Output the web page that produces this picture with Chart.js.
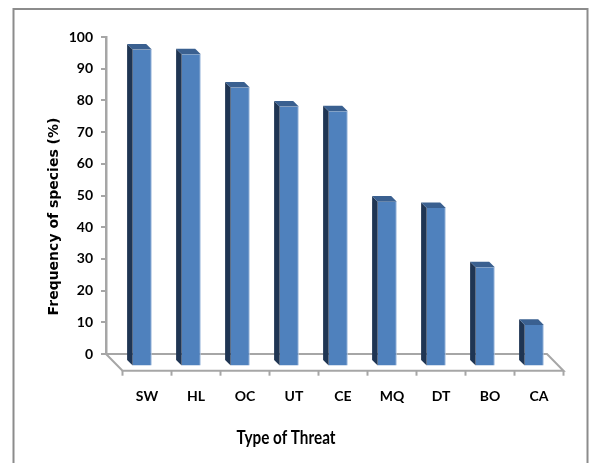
<!DOCTYPE html>
<html>
<head>
<meta charset="utf-8">
<script src="https://cdn.jsdelivr.net/npm/chart.js@4/dist/chart.umd.min.js"></script>
<style>
  html, body { margin: 0; padding: 0; background: #ffffff; }
  canvas { display: block; }
</style>
</head>
<body>
<canvas id="chart" width="590" height="463"></canvas>
<script>
// Threat categories and share of species affected by each (%)
const threats = ['SW', 'HL', 'OC', 'UT', 'CE', 'MQ', 'DT', 'BO', 'CA'];
const frequency = [100, 98.5, 88, 82, 80.5, 52, 50, 31.3, 13.1];
const yTickValues = [0, 10, 20, 30, 40, 50, 60, 70, 80, 90, 100];
const xTitle = 'Type of Threat';
const yTitle = 'Frequency of species (%)';

// Oblique depth used for the 3D look
const BAR_SHIFT = { x: 11.75, y: 12.5 };   // front faces sit in front of the wall
const BAR_DEPTH = 5.6;                      // thickness of each column
const FLOOR_DEPTH = { x: 16.5, y: 16.7 };   // floor slab depth
const AXIS_GREY = '#A6A6A6';

const colours = {
  front: '#4F81BD',
  edge: '#A9C2E0',
  side: '#1F3553',
  top: '#3A6090'
};

// White page with a thin grey frame
const framePlugin = {
  id: 'frame',
  beforeDraw(chart) {
    const ctx = chart.ctx;
    ctx.save();
    ctx.fillStyle = '#ffffff';
    ctx.fillRect(0, 0, chart.width, chart.height);
    ctx.strokeStyle = '#8C8C8C';
    ctx.lineWidth = 2;
    ctx.strokeRect(13.5, 9, 574, 480);
    ctx.restore();
  }
};

// Floor slab, shifted columns and their side/top faces
const depthPlugin = {
  id: 'depth',
  beforeDatasetsDraw(chart) {
    const ctx = chart.ctx;
    const a = chart.chartArea;
    const n = threats.length;
    const step = (a.right - a.left) / n;
    ctx.save();
    ctx.strokeStyle = AXIS_GREY;
    ctx.lineJoin = 'miter';
    // floor outline
    ctx.lineWidth = 2;
    ctx.beginPath();
    ctx.moveTo(a.left, a.bottom);
    ctx.lineTo(a.right, a.bottom);
    ctx.lineTo(a.right + FLOOR_DEPTH.x, a.bottom + FLOOR_DEPTH.y);
    ctx.lineTo(a.left + FLOOR_DEPTH.x, a.bottom + FLOOR_DEPTH.y);
    ctx.closePath();
    ctx.stroke();
    // tick marks on the front edge of the floor
    for (let i = 0; i <= n; i++) {
      const x = a.left + FLOOR_DEPTH.x + i * step;
      ctx.beginPath();
      ctx.moveTo(x, a.bottom + FLOOR_DEPTH.y);
      ctx.lineTo(x, a.bottom + FLOOR_DEPTH.y + 5);
      ctx.stroke();
    }
    ctx.restore();
    // columns are drawn in front of the wall
    ctx.save();
    ctx.translate(BAR_SHIFT.x, BAR_SHIFT.y);
  },
  afterDatasetsDraw(chart) {
    const ctx = chart.ctx;
    const meta = chart.getDatasetMeta(0);
    const d = BAR_DEPTH;
    meta.data.forEach(bar => {
      const { x, y, base, width } = bar.getProps(['x', 'y', 'base', 'width'], true);
      const left = x - width / 2;
      const right = x + width / 2;
      // side face
      ctx.fillStyle = colours.side;
      ctx.beginPath();
      ctx.moveTo(left - d, y - d);
      ctx.lineTo(left, y);
      ctx.lineTo(left, base);
      ctx.lineTo(left - d, base - d);
      ctx.closePath();
      ctx.fill();
      // top face
      ctx.fillStyle = colours.top;
      ctx.beginPath();
      ctx.moveTo(left - d, y - d);
      ctx.lineTo(right - d, y - d);
      ctx.lineTo(right, y);
      ctx.lineTo(left, y);
      ctx.closePath();
      ctx.fill();
    });
    ctx.restore();
  }
};

// Axis titles
const titlePlugin = {
  id: 'axisTitles',
  afterDraw(chart) {
    const ctx = chart.ctx;
    ctx.save();
    ctx.fillStyle = '#000000';
    ctx.textAlign = 'center';
    ctx.textBaseline = 'middle';
    ctx.font = 'bold 18px Lato';
    ctx.fillText(xTitle, 286, 438, 99);
    ctx.translate(54, 216.5);
    ctx.rotate(-Math.PI / 2);
    ctx.font = 'bold 14px "DejaVu Sans"';
    ctx.fillText(yTitle, 0, 0, 209);
    ctx.restore();
  }
};

new Chart(document.getElementById('chart'), {
  type: 'bar',
  data: {
    labels: threats,
    datasets: [{
      label: yTitle,
      data: frequency,
      backgroundColor: colours.front,
      borderColor: colours.edge,
      borderWidth: { top: 0, left: 0, bottom: 0, right: 1 },
      borderSkipped: false,
      barPercentage: 0.39,
      categoryPercentage: 1,
      clip: false
    }]
  },
  options: {
    responsive: false,
    devicePixelRatio: 1,
    animation: false,
    layout: { padding: { left: 20, right: 43, top: 37, bottom: 44 } },
    plugins: {
      legend: { display: false },
      tooltip: { enabled: false }
    },
    scales: {
      x: {
        offset: true,
        grid: { display: false },
        border: { display: false },
        ticks: {
          color: '#000000',
          font: { family: 'Lato', size: 14, weight: 'bold' },
          padding: 26.5,
          labelOffset: 16.5,
          maxRotation: 0,
          autoSkip: false
        },
        afterFit(scale) { scale.height = 65; }
      },
      y: {
        min: 0,
        max: 100,
        afterBuildTicks(scale) { scale.ticks = yTickValues.map(v => ({ value: v })); },
        grid: {
          drawOnChartArea: false,
          drawTicks: true,
          tickLength: 5,
          color: AXIS_GREY,
          lineWidth: 2
        },
        border: { display: true, color: AXIS_GREY, width: 2.5 },
        ticks: {
          color: '#000000',
          font: { family: 'Lato', size: 14, weight: 'bold' },
          padding: 8
        },
        afterFit(scale) { scale.width = 86; }
      }
    }
  },
  plugins: [framePlugin, depthPlugin, titlePlugin]
});
</script>
</body>
</html>
